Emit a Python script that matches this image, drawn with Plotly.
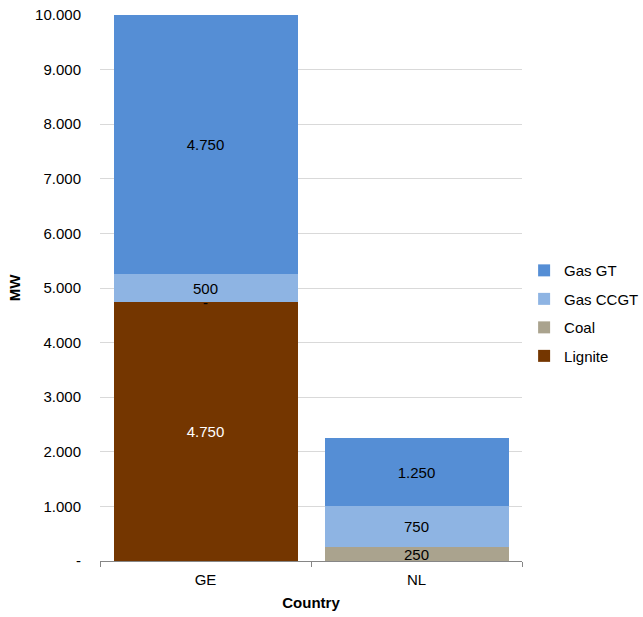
import plotly.graph_objects as go

countries = ["GE", "NL"]
series_names = ["Lignite", "Coal", "Gas CCGT", "Gas GT"]
lignite = [4750, 0]
coal = [0, 250]
gas_ccgt = [500, 750]
gas_gt = [4750, 1250]
series_values = [lignite, coal, gas_ccgt, gas_gt]
colors = ["#743600", "#aaa38e", "#8eb4e3", "#558ed5"]
text_colors = ["white", "black", "black", "black"]
y_tickvals = [0, 1000, 2000, 3000, 4000, 5000, 6000, 7000, 8000, 9000, 10000]
y_ticktext = ["-", "1.000", "2.000", "3.000", "4.000", "5.000", "6.000", "7.000", "8.000", "9.000", "10.000"]


def fmt(v):
    return "-" if v == 0 else f"{v:,}".replace(",", ".")


FONT = "Liberation Sans, Arial, sans-serif"
FS = 15
fig = go.Figure()
n = len(series_names)
for k, (name, vals, col, tc) in enumerate(zip(series_names, series_values, colors, text_colors)):
    fig.add_trace(go.Bar(
        x=countries, y=vals, name=name, marker=dict(color=col, line=dict(width=0)),
        text=[fmt(v) if v else "" for v in vals], textposition="inside",
        insidetextanchor="middle", textangle=0,
        textfont=dict(color=tc, size=FS, family=FONT),
        legendgroup=name, legendrank=n - k,
    ))

# zero-value labels ("-") drawn at the stack position
base = [0] * len(countries)
for vals in series_values:
    for i, v in enumerate(vals):
        if v == 0 and base[i] > 0:
            fig.add_annotation(x=countries[i], y=base[i], text="-", showarrow=False,
                               yshift=-1, font=dict(size=FS, color="black", family=FONT))
        base[i] += v

fig.update_layout(
    width=643, height=617,
    margin=dict(l=100, r=121, t=15, b=56, autoexpand=False),
    barmode="stack", bargap=0.128,
    plot_bgcolor="white", paper_bgcolor="white",
    font=dict(family=FONT, size=FS, color="black"),
    uniformtext=dict(minsize=FS, mode="show"),
    legend=dict(x=1.005, xanchor="left", y=0.454, yanchor="middle",
                traceorder="grouped", tracegroupgap=6,
                font=dict(size=FS), itemwidth=30),
    xaxis=dict(showline=True, linecolor="#868686", ticks="outside", tickson="boundaries",
               ticklen=5, tickcolor="#868686", automargin=False, ticklabelstandoff=5,
               title=dict(text="<b>Country</b>", font=dict(size=FS), standoff=10)),
    yaxis=dict(range=[0, 10000], tickvals=y_tickvals, ticktext=y_ticktext,
               showgrid=True, gridcolor="#d9d9d9", zeroline=False, showline=False,
               ticklabelstandoff=18, automargin=False,
               title=dict(text="<b>MW</b>", font=dict(size=FS), standoff=10)),
)
fig.write_html("out.html", config={"displayModeBar": False},
               post_script="document.body.style.margin='0';")
